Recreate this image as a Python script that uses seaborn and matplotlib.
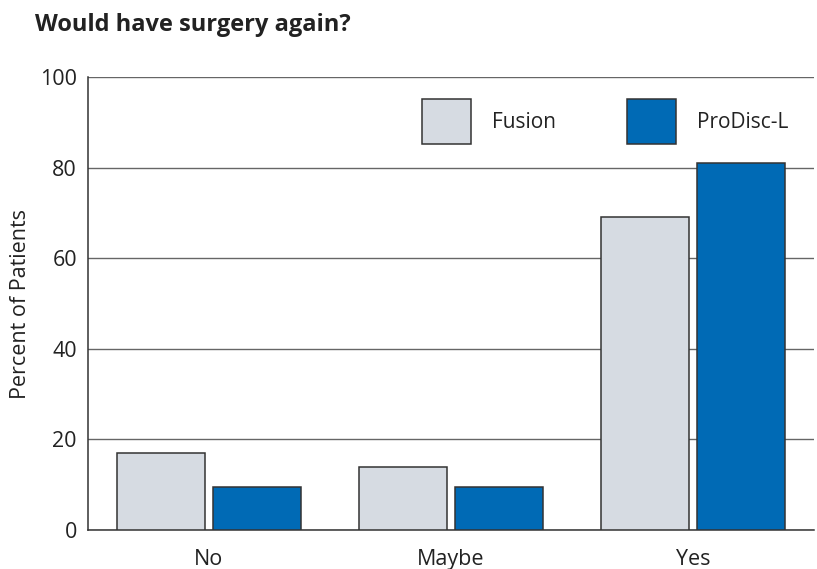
import pandas as pd
import matplotlib.pyplot as plt
import seaborn as sns

# Survey data
answers = ['No', 'Maybe', 'Yes']
fusion = [17, 14, 69]
prodisc = [9.5, 9.5, 81]

df = pd.DataFrame({
    'Answer': answers * 2,
    'Percent': fusion + prodisc,
    'Group': ['Fusion'] * 3 + ['ProDisc-L'] * 3,
})

sns.set_style('white')
plt.rcParams['font.family'] = ['Open Sans', 'DejaVu Sans']

fig = plt.figure(figsize=(8.17, 5.69), dpi=100)
ax = fig.add_axes([0.1077, 0.0685, 0.8886, 0.7962])

sns.barplot(data=df, x='Answer', y='Percent', hue='Group', ax=ax,
            palette={'Fusion': '#d6dbe2', 'ProDisc-L': '#006ab5'},
            width=0.8, gap=0.09, edgecolor='#333333', linewidth=1.1,
            saturation=1, zorder=3)

ax.set_xlim(-0.5, 2.5)
ax.set_ylim(0, 100)
ax.set_yticks([0, 20, 40, 60, 80, 100])
ax.yaxis.grid(True, color='#666666', linewidth=1.0, zorder=0)
ax.xaxis.grid(False)

for side in ['top', 'right']:
    ax.spines[side].set_visible(False)
for side in ['left', 'bottom']:
    ax.spines[side].set_color('#333333')
    ax.spines[side].set_linewidth(1.1)

ax.tick_params(axis='y', length=0, labelsize=15.5, pad=8, colors='#222222')
ax.tick_params(axis='x', which='major', length=0, labelsize=15.5, pad=14, colors='#222222')
ax.set_xticks([0.5, 1.5, 2.5], minor=True)
ax.tick_params(axis='x', which='minor', direction='in', length=8, width=1.1, color='#333333')

ax.set_xlabel('')
ax.set_ylabel('Percent of Patients', fontsize=15.5, color='#222222')
ax.yaxis.set_label_coords(-0.078, 0.5)

handles, labels = ax.get_legend_handles_labels()
ax.legend(handles, labels, ncol=2, frameon=False, fontsize=15,
          loc='upper left', bbox_to_anchor=(0.446, 0.975),
          handlelength=2.35, handleheight=3.0, handletextpad=1.0,
          columnspacing=3.4, borderpad=0, labelcolor='#222222')

fig.text(0.043, 0.977, 'Would have surgery again?', fontsize=17, fontweight='bold',
         color='#222222', va='top', ha='left')

plt.savefig('out.png', dpi=100)
